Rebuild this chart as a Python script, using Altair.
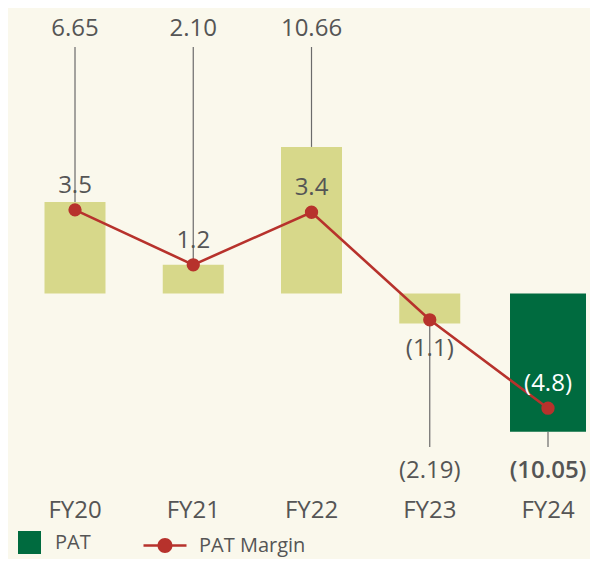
import altair as alt
import pandas as pd

# ---- data ----
years = ["FY20", "FY21", "FY22", "FY23", "FY24"]
pat = [6.65, 2.10, 10.66, -2.19, -10.05]
pat_labels = ["6.65", "2.10", "10.66", "(2.19)", "(10.05)"]
margin = [3.5, 1.2, 3.4, -1.1, -4.8]
margin_labels = ["3.5", "1.2", "3.4", "(1.1)", "(4.8)"]
legend_pat = ["PAT"]
legend_margin = ["PAT Margin"]

df = pd.DataFrame({
    "year": years,
    "pat": pat,
    "pat_label": pat_labels,
    "margin": margin,
    "margin_label": margin_labels,
})

# ---- style ----
BG = "#FAF8EC"
OLIVE = "#D7D88A"
GREEN = "#006B3F"
RED = "#B7322C"
TEXT = "#555555"
RULE = "#6B6B6B"
FONT = "Open Sans"
FS = 24

W, H = 582, 487
ZERO = 285.5       # pixel position of zero line inside plot
BAR_PX = 13.75     # px per PAT unit
M_PX = 23.9        # px per margin unit

x_scale = alt.Scale(domain=years, paddingInner=0.484, paddingOuter=0.2029, align=0.7606)
y_bar = alt.Scale(domain=[-(H - ZERO) / BAR_PX, ZERO / BAR_PX], nice=False, zero=False)
y_m = alt.Scale(domain=[-(H - ZERO) / M_PX, ZERO / M_PX], nice=False, zero=False)

X = alt.X("year:N", scale=x_scale, sort=years,
          axis=alt.Axis(title=None, domain=False, ticks=False, tickSize=0, grid=False,
                        labelAngle=0, labelFont=FONT, labelFontSize=FS, labelColor=TEXT,
                        labelPadding=3))

base = alt.Chart(df)
last = years[-1]

bars = base.mark_bar().encode(
    x=X,
    y=alt.Y("pat:Q", scale=y_bar, axis=None),
    y2=alt.datum(0),
    color=alt.condition(f"datum.year === '{last}'", alt.value(GREEN), alt.value(OLIVE)),
    size=alt.condition(f"datum.year === '{last}'", alt.value(76), alt.value(61)),
)

rules_pos = base.transform_filter("datum.pat > 0").mark_rule(color=RULE, strokeWidth=1.2).encode(
    x=X, y=alt.Y("pat:Q", scale=y_bar, axis=None), y2=alt.value(39)
)
rules_neg = base.transform_filter("datum.pat < 0").mark_rule(color=RULE, strokeWidth=1.2).encode(
    x=X, y=alt.Y("pat:Q", scale=y_bar, axis=None), y2=alt.value(439)
)

txt = dict(font=FONT, fontSize=FS, color=TEXT, baseline="middle", align="center")
pat_top = base.transform_filter("datum.pat > 0").mark_text(**txt).encode(
    x=X, y=alt.value(20.5), text="pat_label:N")
pat_bot = base.transform_filter(f"datum.pat < 0 && datum.year !== '{last}'").mark_text(**txt).encode(
    x=X, y=alt.value(462.5), text="pat_label:N")
pat_bot_bold = base.transform_filter(f"datum.year === '{last}'").mark_text(fontWeight=600, **txt).encode(
    x=X, y=alt.value(462.5), text="pat_label:N")

line = base.mark_line(color=RED, strokeWidth=2.6).encode(
    x=X, y=alt.Y("margin:Q", scale=y_m, axis=None))
pts = base.mark_circle(color=RED, size=177, opacity=1).encode(
    x=X, y=alt.Y("margin:Q", scale=y_m, axis=None))

m_txt = dict(font=FONT, fontSize=FS, baseline="middle", align="center")
m_above = base.transform_filter("datum.year !== 'FY23'").mark_text(dy=-24, **m_txt).encode(
    x=X, y=alt.Y("margin:Q", scale=y_m, axis=None), text="margin_label:N",
    color=alt.condition(f"datum.year === '{last}'", alt.value("#FFFFFF"), alt.value(TEXT)))
m_below = base.transform_filter("datum.year === 'FY23'").mark_text(dy=29, color=TEXT, **m_txt).encode(
    x=X, y=alt.Y("margin:Q", scale=y_m, axis=None), text="margin_label:N")

# ---- legends (from empty layers with explicit domains) ----
# line-with-dot symbol drawn as filled shapes (two thin bars + a circle)
PATH = ("M-1.87,-0.11L-0.64,-0.11L-0.64,0.11L-1.87,0.11Z"
        "M0.64,-0.11L1.87,-0.11L1.87,0.11L0.64,0.11Z"
        "M0.65,0A0.65,0.65,0,1,1,-0.65,0A0.65,0.65,0,1,1,0.65,0Z")
leg_a = alt.Chart(pd.DataFrame({"series": legend_pat})).transform_filter("false").mark_square(opacity=1).encode(
    fill=alt.Fill("series:N", scale=alt.Scale(domain=legend_pat, range=[GREEN]),
                  legend=alt.Legend(orient="none", legendX=10, legendY=523, title=None,
                                    symbolType="square", symbolSize=529, symbolStrokeWidth=0,
                                    symbolOpacity=1, labelOffset=14, padding=0,
                                    labelFont=FONT, labelFontSize=20, labelColor=TEXT)))
leg_b = alt.Chart(pd.DataFrame({"series": legend_margin})).transform_filter("false").mark_point(
    filled=True, color=RED, opacity=1).encode(
    shape=alt.Shape("series:N", scale=alt.Scale(domain=legend_margin, range=[PATH]),
                    legend=alt.Legend(orient="none", legendX=145.5, legendY=526, title=None,
                                      symbolSize=529, symbolStrokeWidth=0, symbolOpacity=1,
                                      symbolFillColor=RED, symbolStrokeColor=RED,
                                      labelOffset=22.5, padding=0,
                                      labelFont=FONT, labelFontSize=20, labelColor=TEXT)))

chart = alt.layer(
    bars, rules_pos, rules_neg, line, pts, pat_top, pat_bot, pat_bot_bold, m_above, m_below, leg_a, leg_b
).resolve_scale(y="independent").properties(
    width=W, height=H,
    autosize=alt.AutoSizeParams(type="none"),
    padding={"left": 0, "top": 0, "right": 0, "bottom": 64},
    background=BG,
).configure_view(stroke=None)

chart.save("out.html", embed_options={"renderer": "svg", "actions": False})
